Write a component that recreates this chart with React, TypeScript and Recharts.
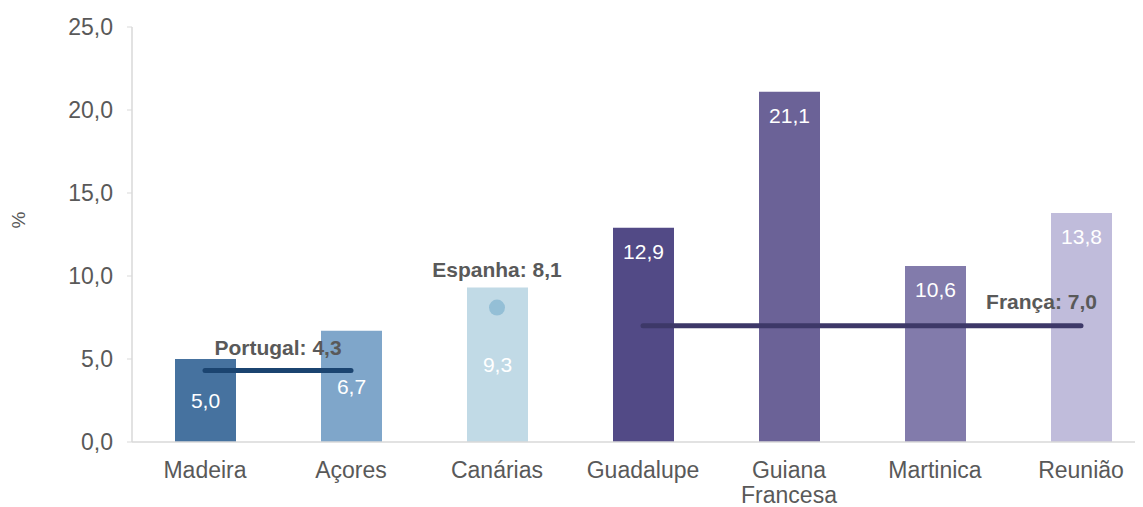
import React from 'react'
import { ComposedChart, Bar, Line, XAxis, YAxis, Cell, LabelList } from 'recharts'

const regions = ['Madeira', 'Açores', 'Canárias', 'Guadalupe', 'Guiana Francesa', 'Martinica', 'Reunião']
const regionValues = [5.0, 6.7, 9.3, 12.9, 21.1, 10.6, 13.8]
const portugalAvg = [4.3, 4.3, null, null, null, null, null]
const espanhaAvg = [null, null, 8.1, null, null, null, null]
const francaAvg = [null, null, null, 7.0, 7.0, 7.0, 7.0]
const yTicks = [0, 5, 10, 15, 20, 25]

const barColors = ['#46729f', '#7fa6ca', '#c1dae6', '#524a86', '#6b6297', '#827bab', '#c0bcdb']
const FONT = '"Liberation Sans", Arial, sans-serif'

const data = regions.map((name, i) => ({
    name,
    value: regionValues[i],
    portugal: portugalAvg[i],
    espanha: espanhaAvg[i],
    franca: francaAvg[i],
}))

const fmt = (v: number) => v.toFixed(1).replace('.', ',')

const ValueLabel = (props: any) => {
    const { x, y, width, height, value, index } = props
    const cy = index < 3 ? y + height / 2 : y + 24
    return (
        <text x={x + width / 2} y={cy} dy="0.35em" textAnchor="middle" fill="#fff" fontSize={21} fontFamily={FONT}>
            {fmt(value)}
        </text>
    )
}

const avgLabel = (name: string, showAt: number, dx: number, dy: number, anchor: string) => (props: any) => {
    const { x, y, value, index } = props
    if (index !== showAt || value == null) return null
    return (
        <text x={x + dx} y={y + dy} dy="0.35em" textAnchor={anchor} fill="#595959" fontSize={21} fontWeight="bold" fontFamily={FONT}>
            {name}: {fmt(value)}
        </text>
    )
}

// long names go on two lines, like the original
const CategoryTick = (props: any) => {
    const { x, y, payload } = props
    const text: string = payload.value
    const lines = text.length > 10 ? text.split(' ') : [text]
    return (
        <text x={x} y={y + 36} textAnchor="middle" fill="#595959" fontSize={23} fontFamily={FONT}>
            {lines.map((l, i) => (
                <tspan key={i} x={x} dy={i === 0 ? 0 : 25}>{l}</tspan>
            ))}
        </text>
    )
}

export default function App() {
    return (
        <div style={{ marginLeft: -8, marginTop: -8, width: 1143, height: 507, position: 'relative' }}>
            <ComposedChart width={1160} height={507} data={data} margin={{ top: 27, right: 6, bottom: 5, left: 0 }} style={{ overflow: 'visible' }}>
                <XAxis
                    dataKey="name"
                    tick={<CategoryTick />}
                    tickLine={false}
                    axisLine={{ stroke: '#d9d9d9', strokeWidth: 1.5 }}
                    height={60}
                    interval={0}
                    tickSize={0}
                    tickMargin={0}
                />
                <YAxis
                    width={132}
                    domain={[0, 25]}
                    ticks={yTicks}
                    tickFormatter={fmt}
                    axisLine={{ stroke: '#d9d9d9', strokeWidth: 1.5 }}
                    tickLine={{ stroke: '#d9d9d9' }}
                    tickSize={5}
                    tickMargin={14}
                    tick={{ fill: '#595959', fontSize: 23, fontFamily: FONT }}
                    label={{ value: '%', angle: -90, position: 'insideLeft', offset: 18, dy: -6, fill: '#595959', fontSize: 19, fontFamily: FONT }}
                />
                <Bar dataKey="value" barSize={61} isAnimationActive={false}>
                    {data.map((d, i) => (
                        <Cell key={d.name} fill={barColors[i]} />
                    ))}
                    <LabelList dataKey="value" content={<ValueLabel />} />
                </Bar>
                <Line dataKey="portugal" stroke="#1b4470" strokeWidth={5} strokeLinecap="round" dot={false} activeDot={false} isAnimationActive={false}>
                    <LabelList dataKey="portugal" content={avgLabel('Portugal', 0, 73, -23, 'middle')} />
                </Line>
                <Line dataKey="espanha" stroke="none" dot={{ r: 8, fill: '#94bfd6', stroke: 'none' }} activeDot={false} isAnimationActive={false}>
                    <LabelList dataKey="espanha" content={avgLabel('Espanha', 2, 0, -38, 'middle')} />
                </Line>
                <Line dataKey="franca" stroke="#3d3868" strokeWidth={5} strokeLinecap="round" dot={false} activeDot={false} isAnimationActive={false}>
                    <LabelList dataKey="franca" content={avgLabel('França', 6, 16, -24, 'end')} />
                </Line>
            </ComposedChart>
        </div>
    )
}
